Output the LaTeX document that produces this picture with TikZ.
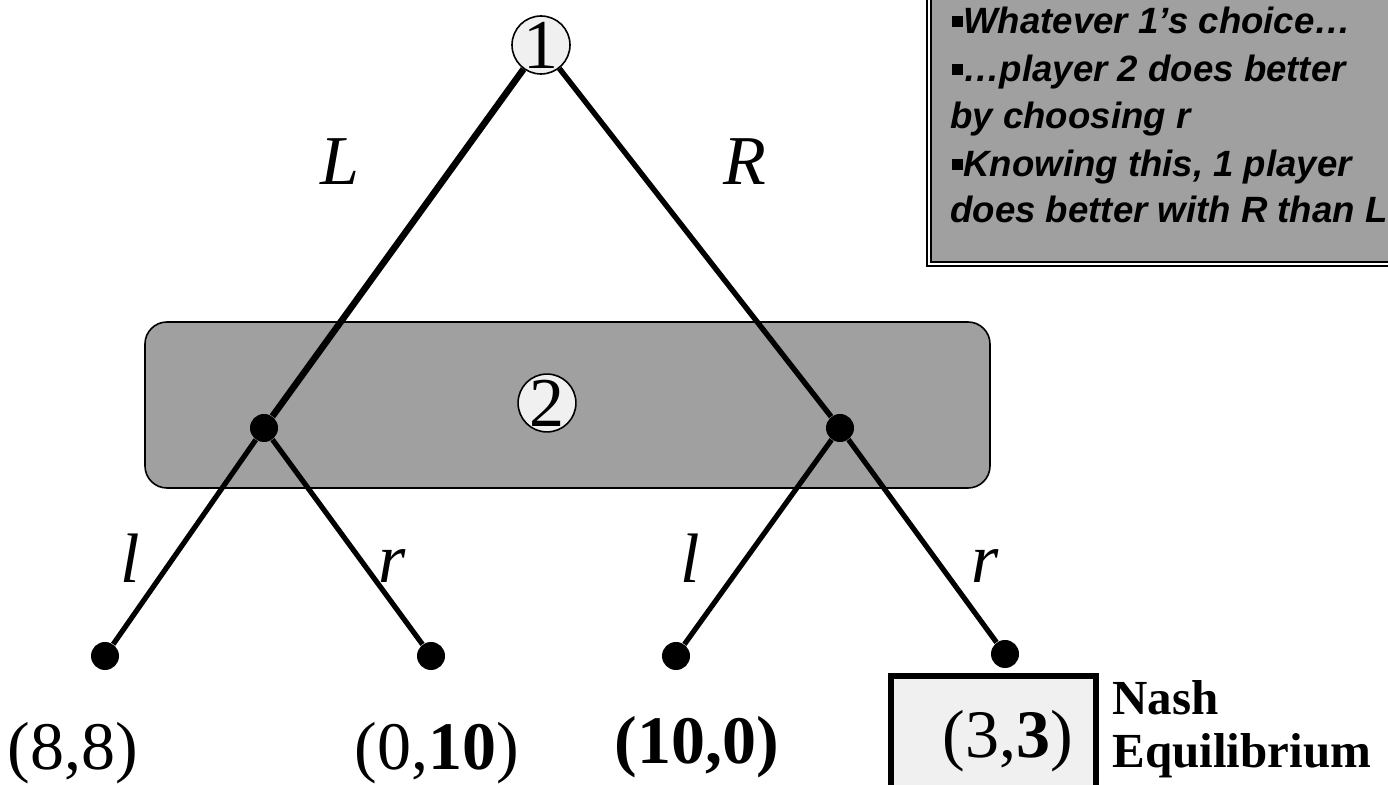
\documentclass[tikz,border=0pt]{standalone}
\usepackage{fontspec}
\setmainfont{Liberation Serif}
\newfontfamily\notefont{Liberation Sans}
\usetikzlibrary{positioning}
\definecolor{setgray}{RGB}{160,160,160}
\definecolor{palegray}{RGB}{240,240,240}
\newcommand\sqbul{\rule[0.2em]{0.3em}{0.3em}}

\begin{document}
\begin{tikzpicture}[x=0.5pt, y=-0.5pt,
  player/.style={circle, draw, line width=0.8pt, fill=palegray, inner sep=0pt, minimum size=27pt, font=\fontsize{35}{35}\selectfont},
  dot/.style={circle, fill=black, inner sep=0pt, minimum size=14pt},
  branch/.style={line width=2.6pt},
  act/.style={anchor=base, inner sep=0pt, font=\fontsize{35}{35}\selectfont\itshape},
  pay/.style={anchor=base, inner sep=0pt, font=\fontsize{34}{34}\selectfont},
  nashtxt/.style={anchor=base west, inner sep=0pt, font=\fontsize{24.5}{24.5}\selectfont\bfseries},
  note/.style={anchor=base west, inner sep=0pt, font=\notefont\bfseries\itshape\fontsize{18.3}{18.3}\selectfont}]
\useasboundingbox (0,0) rectangle (1388,785);
\clip (0,0) rectangle (1388,785);
% comment box, top right
\draw[line width=0.8pt, double=white, double distance=1.2pt, fill=setgray] (929,-20) rectangle (1420,264);
\node[note] (c1) at (952,34) {\sqbul Whatever 1’s choice…};
\node[note] (c2) at (952,82) {\sqbul…player 2 does better};
\node[note] (c3) at (950,129) {by choosing r};
\node[note] (c4) at (952,177) {\sqbul Knowing this, 1 player};
\node[note] (c5) at (950,223) {does better with R than L};
% information set of player 2
\draw[line width=0.8pt, fill=setgray, rounded corners=11pt] (145,322) rectangle (990,488);
% Nash box
\draw[line width=3pt, fill=palegray] (891,676) rectangle (1096,810);
% tree
\node[player] (root) at (541,45) {1};
\node[player] (p2) at (547,403) {2};
\node[dot] (vL) at (264,428) {};
\node[dot] (vR) at (840,428) {};
\node[dot] (t1) at (105,656) {};
\node[dot] (t2) at (431,656) {};
\node[dot] (t3) at (676,656) {};
\node[dot] (t4) at (1005,654) {};
\draw[line width=3.3pt] (root) -- (vL);
\draw[line width=2.7pt] (root) -- (vR);
\draw[branch] (vL) -- (t1);
\draw[branch] (vL) -- (t2);
\draw[branch] (vR) -- (t3);
\draw[branch] (vR) -- (t4);
% actions
\node[act] (aL) at (340,185) {L};
\node[act] (aR) at (745,185) {R};
\node[act] (al1) at (130,583) {l};
\node[act] (ar1) at (392,583) {r};
\node[act] (al2) at (690,583) {l};
\node[act] (ar2) at (985,583) {r};
% payoffs
\node[pay] (u1) at (73,770) {(8,8)};
\node[pay] (u2) at (437,770) {(0,\textbf{10})};
\node[pay, font=\fontsize{34}{34}\selectfont\bfseries] (u3) at (697,764) {(10,0)};
\node[pay] (u4) at (1008,758) {(3,\textbf{3})};
\node[nashtxt] (ne1) at (1112,715) {Nash};
\node[nashtxt] (ne2) at (1112,768) {Equilibrium};
\end{tikzpicture}
\end{document}
